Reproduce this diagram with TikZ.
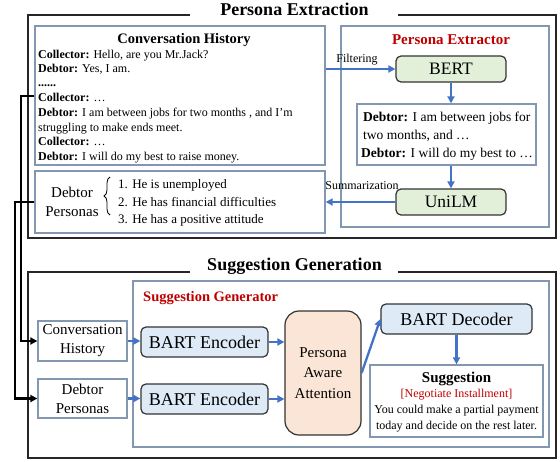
\documentclass[tikz,border=0pt]{standalone}
\usepackage{fontspec}
\setmainfont{Liberation Serif}
\usetikzlibrary{arrows.meta,decorations.pathreplacing}
\definecolor{gb}{HTML}{8497B0}
\definecolor{ab}{HTML}{4472C4}
\definecolor{rd}{HTML}{C00000}
\definecolor{gf}{HTML}{E2F0D9}
\definecolor{bf}{HTML}{DEEBF7}
\definecolor{of}{HTML}{FBE5D6}
\newcommand{\setfs}[2]{\fontsize{#1}{#2}\selectfont}
\begin{document}
\begin{tikzpicture}[x=1pt,y=-1pt,
  frame/.style={draw=black!85, line width=1.6pt},
  gbox/.style={draw=gb, line width=1.3pt, inner sep=0pt, fill=white},
  mbox/.style={draw=black!80, line width=1.2pt, rounded corners=5pt, inner sep=0pt},
  barrow/.style={draw=ab, line width=2.3pt, -{Triangle[length=7pt,width=7pt]}},
  karrow/.style={draw=black, line width=2.3pt, -{Triangle[length=7pt,width=7pt]}},
  ttl/.style={font=\setfs{18}{20}\bfseries, anchor=base, inner sep=0pt},
  ln/.style={font=\setfs{12}{14}, anchor=base west, inner sep=0pt},
  ln2/.style={font=\setfs{13.5}{16}, anchor=base west, inner sep=0pt},
  lbl/.style={font=\setfs{12}{14}, anchor=base, inner sep=0pt},
  redt/.style={font=\setfs{15}{17}\bfseries, text=rd, inner sep=0pt},
]
\useasboundingbox[fill=white] (0,0) rectangle (560,461);

% ---------- Persona Extraction frame ----------
\draw[frame] (190,15) -- (28,15) -- (28,238) -- (556,238) -- (556,15) -- (398,15);
\node[ttl] (t1) at (294.5,15) {Persona Extraction};

\node[gbox, minimum width=290pt, minimum height=139pt] (conv) at (180,95.5) {};
\node[gbox, minimum width=290pt, minimum height=62pt] (pers) at (180,202) {};
\node[gbox, minimum width=208pt, minimum height=201pt] (extr) at (445,126.5) {};

\node[font=\setfs{14.5}{16}\bfseries, anchor=base, inner sep=0pt] (cht) at (184,43) {Conversation History};
\node[ln] (c1) at (38,58) {\textbf{Collector:} Hello, are you Mr.Jack?};
\node[ln] (c2) at (38,72.5) {\textbf{Debtor:} Yes, I am.};
\node[ln] (c3) at (38,86) {\textbf{......}};
\node[ln] (c4) at (38,101.5) {\textbf{Collector:} …};
\node[ln] (c5) at (38,116) {\textbf{Debtor:} I am between jobs for two months , and I'm};
\node[ln] (c6) at (38,131) {struggling to make ends meet.};
\node[ln] (c7) at (38,145.5) {\textbf{Collector:} …};
\node[ln] (c8) at (38,160) {\textbf{Debtor:} I will do my best to raise money.};

\node[align=center, font=\setfs{15}{19.5}, inner sep=0pt] (dpl) at (72,202) {Debtor\\Personas};
\draw[line width=0.8pt, decorate, decoration={brace, amplitude=6pt}] (110,215) -- (110,177);
\node[font=\setfs{13}{15}, anchor=base west, inner sep=0pt] (p1) at (118,188) {1. He is unemployed};
\node[font=\setfs{13}{15}, anchor=base west, inner sep=0pt] (p2) at (118,206) {2. He has financial difficulties};
\node[font=\setfs{13}{15}, anchor=base west, inner sep=0pt] (p3) at (118,223) {3. He has a positive attitude};

\node[redt, anchor=base] (pet) at (451,44) {Persona Extractor};
\node[mbox, fill=gf, minimum width=110pt, minimum height=26pt, font=\setfs{17.5}{20}] (bert) at (451,69) {BERT};
\node[gbox, minimum width=179pt, minimum height=61pt] (filt) at (446.5,134.5) {};
\node[ln2] (f1) at (363,121) {\textbf{Debtor:} I am between jobs for};
\node[ln2] (f2) at (363,139) {two months, and …};
\node[ln2] (f3) at (361,157) {\textbf{Debtor:} I will do my best to …};
\node[mbox, fill=gf, minimum width=110pt, minimum height=26pt, font=\setfs{17.5}{20}] (unilm) at (451,202) {UniLM};

\draw[barrow] (conv.east |- bert.west) -- (bert.west);
\node[lbl] (filtl) at (357,62) {Filtering};
\draw[barrow] (bert.south) -- (bert.south |- filt.north);
\draw[barrow] (unilm.north |- filt.south) -- (unilm.north);
\draw[barrow] (unilm.west) -- (pers.east);
\node[lbl] (suml) at (362,189) {Summarization};

% ---------- Suggestion Generation frame ----------
\draw[frame] (190,272) -- (28,272) -- (28,458) -- (556,458) -- (556,272) -- (398,272);
\node[ttl] (t2) at (294.5,270) {Suggestion Generation};

\node[gbox, minimum width=416pt, minimum height=166pt] (gen) at (341,364) {};
\node[font=\setfs{14.5}{16}\bfseries, text=rd, anchor=base west, inner sep=0pt] (sgt) at (143,301) {Suggestion Generator};

\node[gbox, minimum width=89pt, minimum height=40pt, align=center, font=\setfs{15}{19}] (ch) at (82.5,341) {Conversation\\History};
\node[gbox, minimum width=89pt, minimum height=39pt, align=center, font=\setfs{15}{19}] (dp) at (82.5,398.5) {Debtor\\Personas};

\node[mbox, fill=bf, minimum width=127pt, minimum height=30pt, font=\setfs{18}{20}] (enc1) at (204.5,342) {BART Encoder};
\node[mbox, fill=bf, minimum width=127pt, minimum height=30pt, font=\setfs{18}{20}] (enc2) at (204.5,399) {BART Encoder};
\node[draw=black!80, line width=1.2pt, rounded corners=14pt, fill=of, minimum width=76pt, minimum height=124pt, align=center, font=\setfs{15}{20.5}, inner sep=0pt] (att) at (323,373) {Persona\\Aware\\Attention};
\node[mbox, fill=bf, minimum width=151pt, minimum height=30pt, font=\setfs{18}{20}] (dec) at (456.5,319) {BART Decoder};
\node[gbox, minimum width=173pt, minimum height=72pt] (sug) at (456.5,401) {};
\node[font=\setfs{15}{17}\bfseries, anchor=base, inner sep=0pt] (sg1) at (456.5,382) {Suggestion};
\node[font=\setfs{12}{14}, text=rd, anchor=base, inner sep=0pt] (sg2) at (456.5,397) {[Negotiate Installment]};
\node[font=\setfs{12}{14}, anchor=base, inner sep=0pt] (sg3) at (456.5,413) {You could make a partial payment};
\node[font=\setfs{12}{14}, anchor=base, inner sep=0pt] (sg4) at (456.5,429) {today and decide on the rest later.};

\draw[barrow] (ch.east) -- (ch.east -| enc1.west);
\draw[barrow] (dp.east) -- (dp.east -| enc2.west);
\draw[barrow] (enc1.east) -- (enc1.east -| att.west);
\draw[barrow] (enc2.east) -- (enc2.east -| att.west);
\draw[barrow] (att.east) -- (dec.west);
\draw[barrow] (dec.south) -- (dec.south |- sug.north);

% ---------- black connectors ----------
\coordinate (k1) at (21,96);
\coordinate (k2) at (15,202);
\draw[karrow] (conv.west |- k1) -- (k1) |- (ch.west);
\draw[karrow] (pers.west) -- (k2) |- (dp.west);
\end{tikzpicture}
\end{document}
